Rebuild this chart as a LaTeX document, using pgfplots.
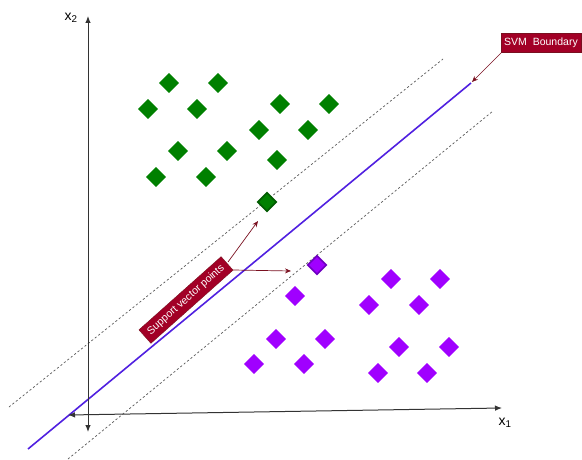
\documentclass[border=0pt]{standalone}
\usepackage{fontspec}
\setmainfont{Liberation Sans}
\usepackage{pgfplots}
\pgfplotsset{compat=1.18}
\usetikzlibrary{arrows.meta}

\definecolor{classA}{HTML}{008000}
\definecolor{classAedge}{HTML}{005A00}
\definecolor{classB}{HTML}{A000FF}
\definecolor{classBedge}{HTML}{6E00C0}
\definecolor{boundary}{HTML}{5020E0}
\definecolor{callout}{HTML}{A20026}
\definecolor{calloutline}{HTML}{7A1020}
\definecolor{axisgray}{HTML}{333333}

\begin{document}
\begin{tikzpicture}
\begin{axis}[
    scale only axis,
    width=582pt, height=460pt,
    xmin=0, xmax=582, ymin=0, ymax=460,
    y dir=reverse,
    hide axis,
    clip=false,
]
  % keep the whole canvas in the bounding box
  \path (axis cs:0,0) rectangle (axis cs:582,460);

  % margins (dashed) and boundary
  \addplot[black!65, line width=0.7pt, dash pattern=on 2.2pt off 2.2pt]
    coordinates {(9,407) (443,59)};
  \addplot[black!65, line width=0.7pt, dash pattern=on 2.2pt off 2.2pt]
    coordinates {(68,459) (493,111)};
  \addplot[boundary, line width=1.6pt] coordinates {(28,449) (471,83)};

  % axes
  \draw[axisgray, line width=1pt, {Latex[length=7pt,width=5.5pt]}-{Latex[length=7pt,width=5.5pt]}]
    (axis cs:68,415) -- (axis cs:502,408);
  \draw[axisgray, line width=1pt, {Latex[length=7pt,width=5.5pt]}-{Latex[length=7pt,width=5.5pt]}]
    (axis cs:88,432) -- (axis cs:88,16);
  \node[font=\fontsize{14}{16}\selectfont] at (axis cs:71,18) {x\textsubscript{2}};
  \node[font=\fontsize{14}{16}\selectfont] at (axis cs:505,423) {x\textsubscript{1}};

  % class 1
  \addplot[only marks, mark=square*, mark size=6.8pt,
    mark options={rotate=45, fill=classA, draw=classA, line width=0.3pt}]
    coordinates {
      (169,83) (218,83) (148,109) (197,109) (280,104) (329,104)
      (259,130) (308,130) (178,151) (227,151) (277,160) (156,177) (206,177)
    };
  \addplot[only marks, mark=square*, mark size=6.5pt,
    mark options={rotate=45, fill=classA, draw=classAedge, line width=1.6pt}]
    coordinates {(267,202)};

  % class 2
  \addplot[only marks, mark=square*, mark size=6.8pt,
    mark options={rotate=45, fill=classB, draw=classB, line width=0.3pt}]
    coordinates {
      (391,279) (440,279) (295,296) (369,305) (419,305) (276,339) (325,339)
      (399,347) (449,347) (254,364) (304,364) (378,373) (427,373)
    };
  \addplot[only marks, mark=square*, mark size=6.5pt,
    mark options={rotate=45, fill=classB, draw=classBedge, line width=1.6pt}]
    coordinates {(317,265)};

  % callouts
  \draw[calloutline, line width=0.7pt, -{Stealth[length=6pt,width=5pt]}]
    (axis cs:502,52) -- (axis cs:472,82);
  \draw[calloutline, line width=0.7pt, -{Stealth[length=6pt,width=5pt]}]
    (axis cs:228,262) -- (axis cs:258,221);
  \draw[calloutline, line width=0.7pt, -{Stealth[length=6pt,width=5pt]}]
    (axis cs:233,270) -- (axis cs:291,271);

  \node[fill=callout, draw=calloutline, line width=0.4pt, text=white,
        minimum width=80pt, minimum height=19pt, inner sep=1pt,
        font=\fontsize{10.5}{12}\selectfont]
    at (axis cs:541,42.5) {SVM\ \ Boundary};
  \node[fill=callout, draw=calloutline, line width=0.4pt, text=white,
        minimum width=110pt, minimum height=18pt, inner sep=1pt, rotate=41.7,
        font=\fontsize{10.5}{12}\selectfont]
    at (axis cs:186,300) {Support vector points};
\end{axis}
\end{tikzpicture}
\end{document}
